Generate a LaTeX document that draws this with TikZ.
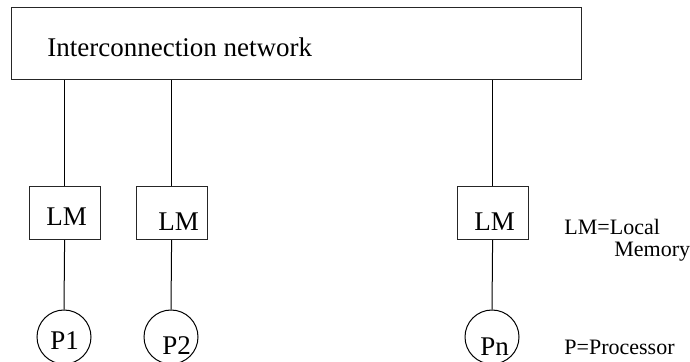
\documentclass[tikz,border=0pt]{standalone}
\usepackage{fontspec}
\setmainfont{Liberation Serif}
\begin{document}
\begin{tikzpicture}[x=0.5pt,y=-0.5pt,
  frame/.style={draw=black!85, line width=0.6pt, inner sep=0pt, anchor=north west},
  lmbox/.style={frame, minimum width=35.5pt, minimum height=26.5pt},
  proc/.style={draw=black, line width=0.5pt, circle, inner sep=0pt, minimum size=27pt},
  wire/.style={draw=black, line width=0.5pt},
  big/.style={font=\fontsize{13.5}{16}\selectfont, inner sep=0pt, anchor=base west},
  note/.style={font=\fontsize{11}{13}\selectfont, inner sep=0pt, anchor=base west}]
\useasboundingbox (0,0) rectangle (690,362);
\clip (0,0) rectangle (690,362);

% interconnection network
\node[frame, minimum width=285pt, minimum height=36pt] (net) at (11,7) {};
\node[big] (nettext) at (47,57) {Interconnection network};

% local memories
\node[lmbox] (lm1) at (28.5,186) {};
\node[lmbox] (lm2) at (135.5,186) {};
\node[lmbox] (lm3) at (456.5,186) {};
\node[big] (lm1t) at (46,226) {LM};
\node[big] (lm2t) at (158,231) {LM};
\node[big] (lm3t) at (474,231) {LM};

% processors
\node[proc] (p1) at (64,337) {};
\node[proc] (p2) at (171,337) {};
\node[proc] (pn) at (492,337) {};
\node[big] (p1t) at (50,350) {P1};
\node[big] (p2t) at (162,355) {P2};
\node[big] (pnt) at (480,356) {Pn};

% connections: network -> memory -> processor
\foreach \m/\p in {lm1/p1, lm2/p2, lm3/pn} {
  \draw[wire] (\m.north |- net.south) -- (\m.north);
  \draw[wire] (\m.south) -- (\p.north);
}

% legend
\node[note] (leg1) at (564,235) {LM=Local};
\node[note] (leg2) at (614,257) {Memory};
\node[note] (leg3) at (564,355) {P=Processor};
\end{tikzpicture}
\end{document}
